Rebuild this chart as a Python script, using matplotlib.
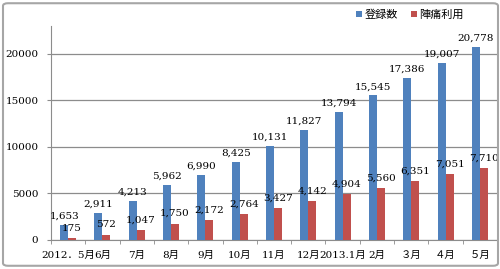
import matplotlib.pyplot as plt
import numpy as np
from matplotlib.patches import FancyBboxPatch

# month labels and the two series
months = ['2012．5月', '6月', '7月', '8月', '9月', '10月', '11月', '12月',
          '2013.1月', '2月', '３月', '４月', '５月']
registered = [1653, 2911, 4213, 5962, 6990, 8425, 10131, 11827,
              13794, 15545, 17386, 19007, 20778]
labor_use = [175, 572, 1047, 1750, 2172, 2764, 3427, 4142,
             4904, 5560, 6351, 7051, 7710]

blue = '#4F81BD'
red = '#C0504D'
grey = '#8C8C8C'
num_font = ['DejaVu Serif', 'Noto Sans CJK JP']
jp_font = ['Noto Sans CJK JP', 'DejaVu Sans']

fig = plt.figure(figsize=(5, 2.69), dpi=100)
ax = fig.add_axes([0.102, 0.108, 0.892, 0.795])

x = np.arange(len(months))
w = 0.233
b1 = ax.bar(x - w / 2, registered, w, color=blue, label='登録数', zorder=3)
b2 = ax.bar(x + w / 2, labor_use, w, color=red, label='陣痛利用', zorder=3)

# data labels
for rect, v in zip(b1, registered):
    ax.annotate(f'{v:,}', (rect.get_x() + rect.get_width() / 2, v),
                xytext=(0, 3), textcoords='offset points', ha='center',
                va='bottom', fontsize=7.5, family=num_font, zorder=4)
for rect, v in zip(b2, labor_use):
    ax.annotate(f'{v:,}', (rect.get_x() + rect.get_width() / 2, v),
                xytext=(0, 4), textcoords='offset points', ha='center',
                va='bottom', fontsize=7.5, family=num_font, zorder=4)

ax.set_xlim(-0.5, len(months) - 0.5)
ax.set_ylim(0, 23000)
ax.set_yticks([0, 5000, 10000, 15000, 20000])
ax.yaxis.grid(True, color=grey, linewidth=0.9, zorder=0)

ax.set_xticks(x)
ax.set_xticklabels(months, family=num_font, fontsize=7.5)
ax.set_xticks(np.arange(-0.5, len(months), 1), minor=True)
ax.tick_params(axis='x', which='major', length=0, pad=8)
ax.tick_params(axis='x', which='minor', length=3, color=grey)
ax.tick_params(axis='y', length=3, color=grey, pad=6)
for lab in ax.get_yticklabels():
    lab.set_family(num_font)
    lab.set_fontsize(7.5)

for s in ['top', 'right']:
    ax.spines[s].set_visible(False)
ax.spines['left'].set_color(grey)
ax.spines['bottom'].set_color(grey)

ax.legend(handles=[b1, b2], loc='center', bbox_to_anchor=(0.82, 0.945),
          bbox_transform=fig.transFigure, ncol=2, frameon=False,
          handlelength=0.55, handleheight=0.55, handletextpad=0.2,
          columnspacing=1.2, prop={'family': jp_font, 'size': 8})

# outer frame of the chart
frame = FancyBboxPatch((0.006, 0.012), 0.99, 0.976,
                       boxstyle='round,pad=0,rounding_size=0.01',
                       transform=fig.transFigure, fill=False,
                       edgecolor='#A6A6A6', linewidth=1.5)
fig.patches.append(frame)

fig.savefig('out.png', dpi=100)
